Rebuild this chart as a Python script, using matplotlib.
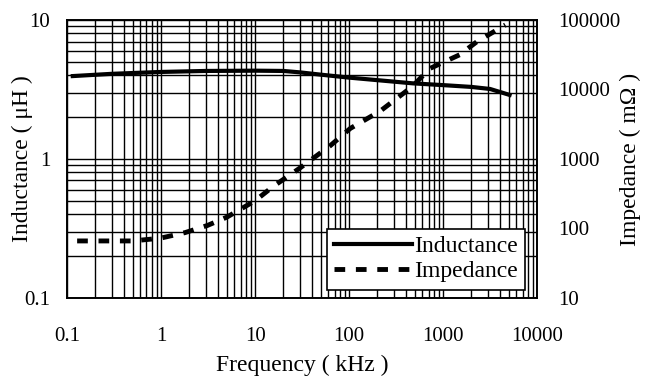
import matplotlib.pyplot as plt
from matplotlib.ticker import LogLocator, FixedLocator, FixedFormatter, NullFormatter

# Data
freq_L = [0.115, 0.3, 1, 3, 10, 20, 30, 49, 100, 480, 1000, 2000, 3160, 5100]
inductance = [3.95, 4.1, 4.23, 4.3, 4.32, 4.3, 4.2, 4.05, 3.85, 3.5, 3.4, 3.3, 3.19, 2.89]

freq_Z = [0.128, 0.25, 0.49, 0.97, 1.8, 3.1, 5, 10, 15.5, 30, 63, 103, 215, 320, 470, 720, 1500, 2300, 4600]
impedance = [66, 66, 66, 72, 87, 110, 145, 250, 400, 740, 1550, 2750, 4900, 7400, 11000, 20000, 31600, 49000, 85000]

x_ticks = [0.1, 1, 10, 100, 1000, 10000]
x_labels = ['0.1', '1', '10', '100', '1000', '10000']
yl_ticks = [0.1, 1, 10]
yl_labels = ['0.1', '1', '10']
yr_ticks = [10, 100, 1000, 10000, 100000]
yr_labels = ['10', '100', '1000', '10000', '100000']

plt.rcParams['font.family'] = ['Liberation Serif', 'DejaVu Serif']
plt.rcParams['font.size'] = 15

fig = plt.figure(figsize=(6.51, 3.78), dpi=100)
ax = fig.add_axes([0.103, 0.212, 0.722, 0.735])
ax2 = ax.twinx()

ax.set_xscale('log')
ax.set_yscale('log')
ax2.set_yscale('log')
ax.set_xlim(0.1, 10000)
ax.set_ylim(0.1, 10)
ax2.set_ylim(10, 100000)

ax.xaxis.set_major_locator(FixedLocator(x_ticks))
ax.xaxis.set_major_formatter(FixedFormatter(x_labels))
ax.xaxis.set_minor_locator(LogLocator(base=10, subs=range(2, 10), numticks=20))
ax.xaxis.set_minor_formatter(NullFormatter())
ax.yaxis.set_major_locator(FixedLocator(yl_ticks))
ax.yaxis.set_major_formatter(FixedFormatter(yl_labels))
ax.yaxis.set_minor_locator(LogLocator(base=10, subs=range(2, 10), numticks=20))
ax.yaxis.set_minor_formatter(NullFormatter())
ax2.yaxis.set_major_locator(FixedLocator(yr_ticks))
ax2.yaxis.set_major_formatter(FixedFormatter(yr_labels))
ax2.yaxis.set_minor_formatter(NullFormatter())

ax.grid(True, which='both', color='black', lw=1.0)
ax.tick_params(axis='y', which='both', length=0, pad=12)
ax.tick_params(axis='x', which='both', length=0, pad=21)
ax2.tick_params(which='both', length=0, pad=15)

l1, = ax.plot(freq_L, inductance, color='black', lw=3, label='Inductance')
l2, = ax2.plot(freq_Z, impedance, color='black', lw=3.5, dashes=(2.2, 2.2), label='Impedance')

for a in (ax, ax2):
    for s in a.spines.values():
        s.set_linewidth(1.2)

ax.set_xlabel('Frequency ( kHz )', fontsize=17, labelpad=6)
ax.set_ylabel('Inductance ( μH )', fontsize=17)
ax.yaxis.set_label_coords(-0.072, 0.5)
ax2.set_ylabel('Impedance ( mΩ )', fontsize=17)
ax2.yaxis.set_label_coords(1.177, 0.5)

leg = ax2.legend(handles=[l1, l2], loc='lower right', bbox_to_anchor=(0.975, 0.03),
                 fancybox=False, framealpha=1, edgecolor='black', fontsize=17,
                 handlelength=3.3, handletextpad=0.1, borderpad=0.3, labelspacing=0.15,
                 borderaxespad=0)
leg.get_frame().set_linewidth(1.2)

fig.savefig('out.png', dpi=100)
